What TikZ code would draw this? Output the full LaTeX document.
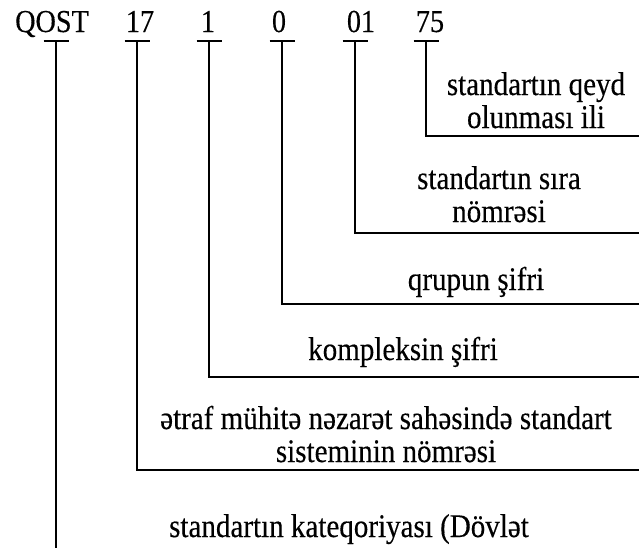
\documentclass[tikz,border=0pt]{standalone}
\usepackage{fontspec}
\setmainfont[FakeStretch=0.88,FakeBold=0.3]{Liberation Serif}
\begin{document}
\begin{tikzpicture}[x=1pt,y=-1pt,
  lbl/.style={font=\fontsize{33}{33}\selectfont, inner sep=0pt, align=center, anchor=base},
  code/.style={font=\fontsize{32}{33}\selectfont, inner sep=0pt, anchor=base},
  ln/.style={line width=1.7pt, line cap=rect}]
\useasboundingbox (0,0) rectangle (639,547);
\begin{scope}
\clip (0,0) rectangle (639,547);
% codes
\node[code] (cQ) at (52,32) {QOST};
\node[code] (c17) at (140,32) {17};
\node[code] (c1) at (208,32) {1};
\node[code] (c0) at (279,32) {0};
\node[code] (c01) at (361,32) {01};
\node[code] (c75) at (430,32) {75};
% tick points
\coordinate (tQ) at (56,41);
\coordinate (t17) at (137,41);
\coordinate (t1) at (209,41);
\coordinate (t0) at (282,41);
\coordinate (t01) at (355,41);
\coordinate (t75) at (426,41);
\foreach \t in {tQ,t17,t1,t0,t01,t75}
  \draw[ln, line cap=butt] ([xshift=-12.5pt]\t) -- ([xshift=12.5pt]\t);
% right ends
\coordinate (r75) at (642,136);
\coordinate (r01) at (642,233);
\coordinate (r0) at (642,304);
\coordinate (r1) at (642,377);
\coordinate (r17) at (642,470);
\coordinate (bQ) at (56,550);
\draw[ln] (t75) |- (r75);
\draw[ln] (t01) |- (r01);
\draw[ln] (t0) |- (r0);
\draw[ln] (t1) |- (r1);
\draw[ln] (t17) |- (r17);
\draw[ln] (tQ) -- (bQ);
% labels (anchor base = last line's baseline)
\node[lbl] (l75) at (536,128) {standartın qeyd\\olunması ili};
\node[lbl] (l01) at (499,222) {standartın sıra\\nömrəsi};
\node[lbl] (l0) at (476,290) {qrupun şifri};
\node[lbl] (l1) at (403,360) {kompleksin şifri};
\node[lbl] (l17) at (386,462) {ətraf mühitə nəzarət sahəsində standart\\sisteminin nömrəsi};
\node[lbl] (lQ) at (349,537) {standartın kateqoriyası (Dövlət};
\end{scope}
\end{tikzpicture}
\end{document}
